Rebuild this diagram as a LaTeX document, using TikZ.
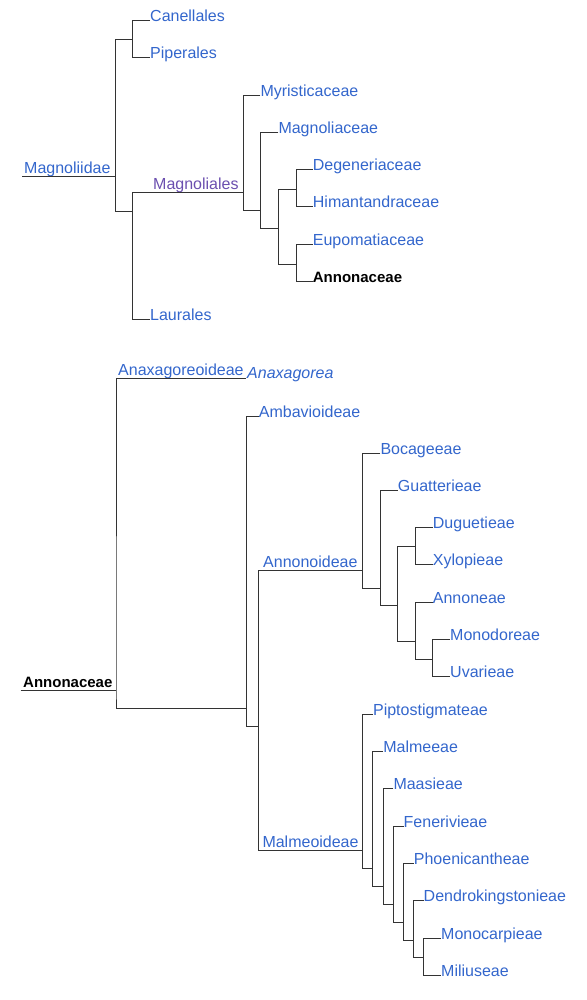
\documentclass[tikz,border=0pt]{standalone}
\usepackage{fontspec}
\setmainfont{Liberation Sans}
\definecolor{linkblue}{HTML}{3366CC}
\definecolor{linkvisited}{HTML}{6B4FAF}
\definecolor{branchgray}{HTML}{333333}
\begin{document}
\begin{tikzpicture}[x=1pt,y=1pt,
  br/.style={draw=branchgray,line width=1pt},
  txt/.style={anchor=base west,inner sep=0pt,font=\fontsize{16}{18}\selectfont},
  leaf/.style={txt,text=linkblue},
  clabel/.style={txt,text=linkblue},
  boldleaf/.style={anchor=base west,inner sep=0pt,font=\fontsize{15}{18}\selectfont\bfseries,text=black},
  itleaf/.style={txt,text=linkblue,font=\fontsize{16}{18}\selectfont\itshape}]
\useasboundingbox (0,0) rectangle (586,-1000);

% ---------------- Magnoliidae tree ----------------
\coordinate (mgS) at (22,-176.7);
\coordinate (R) at (115.7,-176.7);
\coordinate (J1) at (132.7,-39.7);
\coordinate (J2) at (132.7,-212);
\coordinate (J3) at (243.3,-192.7);
\coordinate (J4) at (260.7,-211);
\coordinate (J5) at (278.3,-228.3);
\coordinate (J6) at (296.3,-189.3);
\coordinate (J7) at (296.3,-264);
\coordinate (cane) at (150,-20.3);
\coordinate (pipe) at (150,-57.7);
\coordinate (laur) at (150,-319);
\coordinate (myri) at (260.3,-95.3);
\coordinate (magn) at (278.3,-132.3);
\coordinate (dege) at (312.7,-169.3);
\coordinate (hima) at (312.7,-206.7);
\coordinate (eupo) at (312.7,-244);
\coordinate (anno) at (312.7,-281.7);

\node[clabel] (lMagnoliidae) at (24,-173.7) {Magnoliidae};
\node[txt,text=linkvisited] (lMagnoliales) at (153,-189.7) {Magnoliales};
\node[leaf] (nCane) at ([yshift=-1pt]cane) {Canellales};
\node[leaf] (nPipe) at ([yshift=-1pt]pipe) {Piperales};
\node[leaf] (nLaur) at ([yshift=-1pt]laur) {Laurales};
\node[leaf] (nMyri) at ([yshift=-1pt]myri) {Myristicaceae};
\node[leaf] (nMagn) at ([yshift=-1pt]magn) {Magnoliaceae};
\node[leaf] (nDege) at ([yshift=-1pt]dege) {Degeneriaceae};
\node[leaf] (nHima) at ([yshift=-1pt]hima) {Himantandraceae};
\node[leaf] (nEupo) at ([yshift=-1pt]eupo) {Eupomatiaceae};
\node[boldleaf] (nAnno) at ([yshift=-1pt]anno) {Annonaceae};

\draw[br] (mgS) -- (R);
\draw[br] (J1) -| (R) |- (J2);
\draw[br] (cane) -| (J1) |- (pipe);
\draw[br] (J3) -| (J2) |- (laur);
\draw[br] (myri) -| (J3) |- (J4);
\draw[br] (magn) -| (J4) |- (J5);
\draw[br] (J6) -| (J5) |- (J7);
\draw[br] (dege) -| (J6) |- (hima);
\draw[br] (eupo) -| (J7) |- (anno);

% ---------------- Annonaceae tree ----------------
\coordinate (anS) at (20.7,-690.7);
\coordinate (R2) at (116,-690.7);
\coordinate (anax) at (246,-378.3);
\coordinate (J8) at (246.7,-708.5);
\coordinate (amba) at (258.7,-416.5);
\coordinate (J9) at (258.7,-726.3);
\coordinate (J10) at (362.7,-570.3);
\coordinate (J11) at (362.7,-850.7);
% Annonoideae
\coordinate (boca) at (380.3,-453);
\coordinate (J12) at (380.3,-588);
\coordinate (guat) at (397.7,-490.3);
\coordinate (J13) at (397.7,-605.3);
\coordinate (J14) at (415.3,-546.7);
\coordinate (J15) at (415.3,-641.3);
\coordinate (dugu) at (432.7,-527.3);
\coordinate (xylo) at (432.7,-564.7);
\coordinate (anne) at (432.7,-602);
\coordinate (J16) at (432.7,-659.3);
\coordinate (mono) at (450,-639.7);
\coordinate (uvar) at (450,-676.7);
% Malmeoideae
\coordinate (pipt) at (372.9,-714);
\coordinate (K1) at (372.9,-868.7);
\coordinate (malm) at (383.1,-751.3);
\coordinate (K2) at (383.1,-886.7);
\coordinate (maas) at (393.3,-788.7);
\coordinate (K3) at (393.3,-904.7);
\coordinate (fene) at (403.5,-826);
\coordinate (K4) at (403.5,-922);
\coordinate (phoe) at (413.7,-863.3);
\coordinate (K5) at (413.7,-940);
\coordinate (dend) at (423.5,-900.7);
\coordinate (K6) at (423.5,-957.7);
\coordinate (moca) at (441,-938.3);
\coordinate (mili) at (441,-975.7);

\node[boldleaf] (lAnnonaceae) at (23,-687.7) {Annonaceae};
\node[clabel] (lAnax) at (118,-375.3) {Anaxagoreoideae};
\node[itleaf] (nAnax) at ([xshift=1pt,yshift=-0.5pt]anax) {Anaxagorea};
\node[leaf] (nAmba) at ([yshift=-1pt]amba) {Ambavioideae};
\node[clabel] (lAnnonoid) at (263,-567.3) {Annonoideae};
\node[clabel] (lMalmeoid) at (262.3,-847.7) {Malmeoideae};
\node[leaf] (nBoca) at ([yshift=-1pt]boca) {Bocageeae};
\node[leaf] (nGuat) at ([yshift=-1pt]guat) {Guatterieae};
\node[leaf] (nDugu) at ([yshift=-1pt]dugu) {Duguetieae};
\node[leaf] (nXylo) at ([yshift=-1pt]xylo) {Xylopieae};
\node[leaf] (nAnne) at ([yshift=-1pt]anne) {Annoneae};
\node[leaf] (nMono) at ([yshift=-1pt]mono) {Monodoreae};
\node[leaf] (nUvar) at ([yshift=-1pt]uvar) {Uvarieae};
\node[leaf] (nPipt) at ([yshift=-1pt]pipt) {Piptostigmateae};
\node[leaf] (nMalm) at ([yshift=-1pt]malm) {Malmeeae};
\node[leaf] (nMaas) at ([yshift=-1pt]maas) {Maasieae};
\node[leaf] (nFene) at ([yshift=-1pt]fene) {Fenerivieae};
\node[leaf] (nPhoe) at ([yshift=-1pt]phoe) {Phoenicantheae};
\node[leaf] (nDend) at ([yshift=-1pt]dend) {Dendrokingstonieae};
\node[leaf] (nMoca) at ([yshift=-1pt]moca) {Monocarpieae};
\node[leaf] (nMili) at ([yshift=-1pt]mili) {Miliuseae};

\draw[br] (anS) -- (R2);
\draw[br] (anax) -| (R2) |- (J8);
\draw[br] (amba) -| (J8) |- (J9);
\draw[br] (J10) -| (J9) |- (J11);
\draw[br] (boca) -| (J10) |- (J12);
\draw[br] (guat) -| (J12) |- (J13);
\draw[br] (J14) -| (J13) |- (J15);
\draw[br] (dugu) -| (J14) |- (xylo);
\draw[br] (anne) -| (J15) |- (J16);
\draw[br] (mono) -| (J16) |- (uvar);
\draw[br] (pipt) -| (J11) |- (K1);
\draw[br] (malm) -| (K1) |- (K2);
\draw[br] (maas) -| (K2) |- (K3);
\draw[br] (fene) -| (K3) |- (K4);
\draw[br] (phoe) -| (K4) |- (K5);
\draw[br] (dend) -| (K5) |- (K6);
\draw[br] (moca) -| (K6) |- (mili);
\end{tikzpicture}
\end{document}
